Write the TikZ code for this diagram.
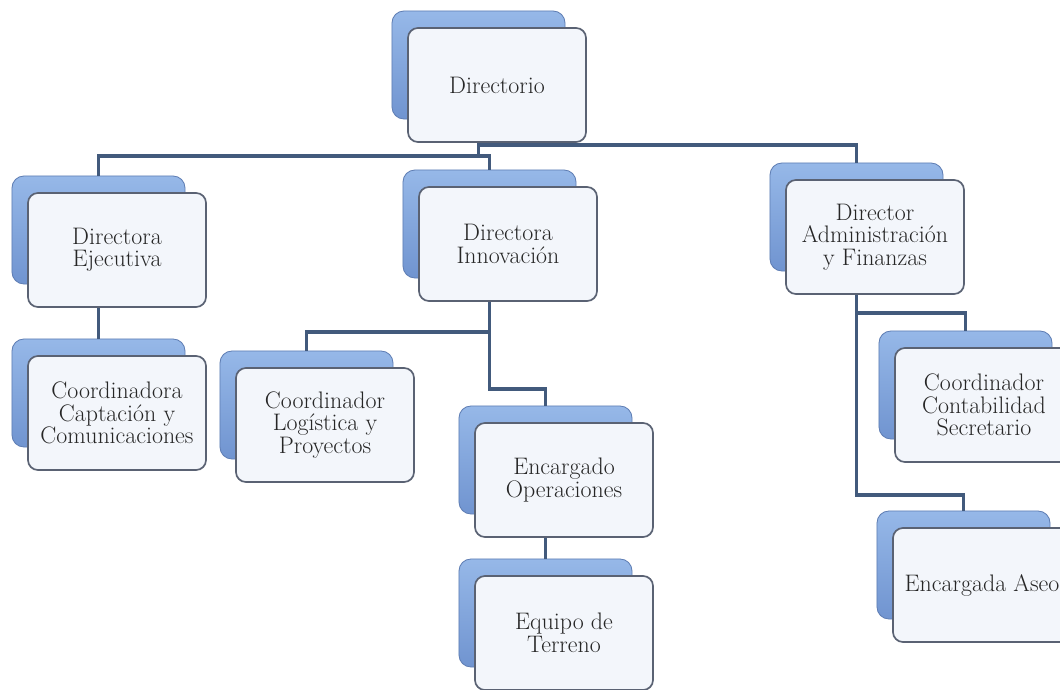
\documentclass[tikz,border=0pt]{standalone}
\usepackage{tikz}
\definecolor{azulfondo}{RGB}{112,148,208}
\definecolor{azulclaro}{RGB}{150,184,232}
\definecolor{azulborde}{RGB}{95,126,180}
\definecolor{cajafront}{RGB}{243,246,251}
\definecolor{cajaborde}{RGB}{90,98,115}
\definecolor{lineaorg}{RGB}{66,90,124}
\begin{document}
\begin{tikzpicture}[x=0.025cm, y=-0.025cm,
    fondo/.style={rectangle, rounded corners=0.3cm, minimum width=4.325cm, minimum height=2.7cm,
      top color=azulclaro, bottom color=azulfondo, draw=azulborde, line width=0.6pt,
      xshift=-0.4625cm, yshift=0.5cm},
    puesto/.style={rectangle, rounded corners=0.25cm, minimum width=4.45cm, minimum height=2.85cm,
      fill=cajafront, draw=cajaborde, line width=1.2pt, align=center, text=black!85,
      font=\fontsize{17}{16}\selectfont},
    linea/.style={draw=lineaorg, line width=2.5pt}]
      \useasboundingbox (0,0) rectangle (1060,690);
      \fill[white] (0,0) rectangle (1060,690);
      % cajas de fondo
      \foreach \n/\x/\y in {dir/497/85, dej/117/250, cap/117/413, inn/508/244, log/325/425,
                           ope/564/480, ter/564/633, adm/875/237, con/984/405, ase/982/585}
        \node[fondo] (\n-b) at (\x,\y) {};
      % conectores
      \coordinate (dir-j) at (dir-b.center |- 0,156);
      \draw[linea] (dir-b.center) -- (dir-b.center |- 0,145) -| (adm-b.north);
      \draw[linea] (dir-b.center) -- (dir-j) -| (dej-b.north);
      \draw[linea] (dir-j) -| (inn-b.north);
      \draw[linea] (dej-b.center) -- (cap-b.north);
      \draw[linea] (inn-b.center) -- (inn-b.center |- 0,332) -| (log-b.north);
      \draw[linea] (inn-b.center) -- (inn-b.center |- 0,389) -| (ope-b.north);
      \draw[linea] (ope-b.center) -- (ter-b.north);
      \draw[linea] (adm-b.center) -- (adm-b.center |- 0,313) -| (con-b.north);
      \draw[linea] (adm-b.center) -- (adm-b.center |- 0,495) -| (ase-b.north);
      % cajas
      \node[puesto] (dir) at (497,85)  {Directorio};
      \node[puesto] (dej) at (117,250) {Directora\\Ejecutiva};
      \node[puesto] (cap) at (117,413) {Coordinadora\\Captación y\\Comunicaciones};
      \node[puesto] (inn) at (508,244) {Directora\\Innovación};
      \node[puesto] (log) at (325,425) {Coordinador\\Logística y\\Proyectos};
      \node[puesto] (ope) at (564,480) {Encargado\\Operaciones};
      \node[puesto] (ter) at (564,633) {Equipo de\\Terreno};
      \node[puesto] (adm) at (875,237) {Director\\Administración\\y Finanzas};
      \node[puesto] (con) at (984,405) {Coordinador\\Contabilidad\\Secretario};
      \node[puesto] (ase) at (982,585) {Encargada Aseo};
\end{tikzpicture}
\end{document}
